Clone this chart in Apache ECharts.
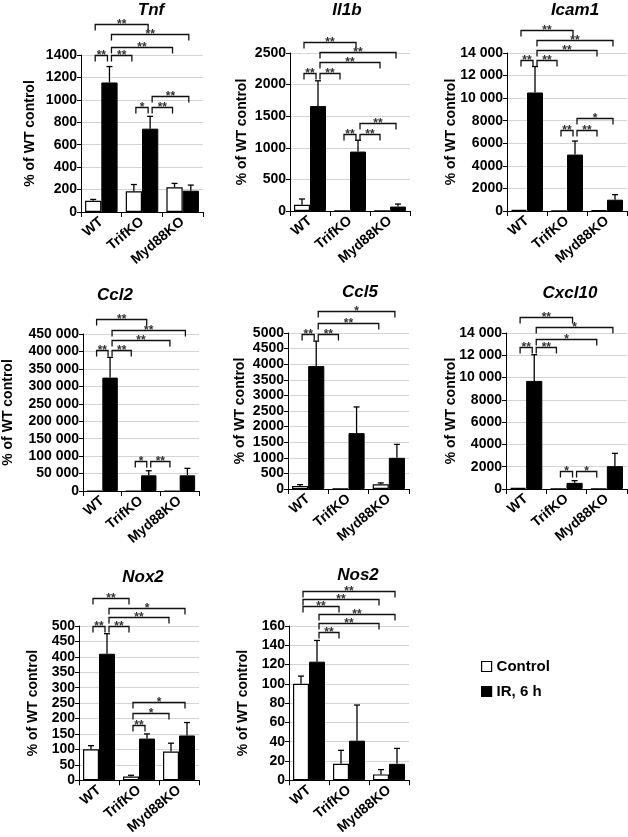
<!DOCTYPE html>
<html><head><meta charset="utf-8">
<script src="https://cdn.jsdelivr.net/npm/echarts@6/dist/echarts.min.js"></script>
<style>html,body{margin:0;padding:0;background:#fff}#c{width:628px;height:837px}</style>
</head><body><div id="c"></div>
<script>
// ---------- data ----------
const categories = ['WT', 'TrifKO', 'Myd88KO'];
const genes = ['Tnf', 'Il1b', 'Icam1', 'Ccl2', 'Ccl5', 'Cxcl10', 'Nox2', 'Nos2'];
const seriesNames = ['Control', 'IR, 6 h'];
const yLabel = '% of WT control';

// axis maxima and tick steps
const axisMax  = [1400, 2500, 14000, 450000, 5000, 14000, 500, 160];
const axisStep = [200, 500, 2000, 50000, 500, 2000, 50, 20];

// means and SDs (control / IR 6 h)
const tnfControl = [100, 185, 220],     tnfControlSD = [12, 60, 35];
const tnfIR = [1155, 743, 190],         tnfIRSD = [142, 110, 50];
const il1bControl = [100, 4, 3],        il1bControlSD = [90, 0, 0];
const il1bIR = [1660, 940, 70],         il1bIRSD = [400, 180, 40];
const icam1Control = [100, 40, 60],     icam1ControlSD = [0, 0, 0];
const icam1IR = [10500, 5000, 1000],    icam1IRSD = [2300, 1200, 450];
const ccl2Control = [100, 100, 120],    ccl2ControlSD = [0, 0, 0];
const ccl2IR = [325000, 45000, 45000],  ccl2IRSD = [58000, 13000, 20000];
const ccl5Control = [100, 10, 150],     ccl5ControlSD = [40, 0, 45];
const ccl5IR = [3940, 1790, 1000],      ccl5IRSD = [800, 840, 430];
const cxcl10Control = [100, 30, 40],    cxcl10ControlSD = [0, 0, 0];
const cxcl10IR = [9700, 550, 2050],     cxcl10IRSD = [2350, 200, 1150];
const nox2Control = [100, 12, 93],      nox2ControlSD = [12, 4, 27];
const nox2IR = [410, 135, 145],         nox2IRSD = [65, 15, 42];
const nos2Control = [100, 17, 6],       nos2ControlSD = [8, 14, 5];
const nos2IR = [123, 41, 17],           nos2IRSD = [22, 37, 16];

// significance comparisons: [category A, group A (0 ctrl / 1 IR), category B, group B, level (data units), label]
const tnfSig = [[0,0,1,1,1677,'**'],[0,1,2,1,1588,'**'],[0,1,2,0,1474,'**'],[0,0,0,1,1400,'**'],[0,1,1,0,1400,'**'],[1,0,1,1,938,'*'],[1,1,2,0,938,'**'],[1,1,2,1,1037,'**']];
const il1bSig = [[0,0,1,1,2669,'**'],[0,1,2,1,2516,'**'],[0,1,2,0,2352,'**'],[0,0,0,1,2182,'**'],[0,1,1,0,2182,'**'],[1,0,1,1,1213,'**'],[1,1,2,0,1213,'**'],[1,1,2,1,1388,'**']];
const icam1Sig = [[0,0,1,1,16077,'**'],[0,1,2,1,15187,'**'],[0,1,2,0,14237,'**'],[0,0,0,1,13407,'**'],[0,1,1,0,13407,'**'],[1,0,1,1,7178,'**'],[1,1,2,0,7178,'**'],[1,1,2,1,8216,'*']];
const ccl2Sig = [[0,0,1,1,492000,'**'],[0,1,2,1,461500,'**'],[0,1,2,0,432800,'**'],[0,0,0,1,404000,'**'],[0,1,1,0,404000,'**'],[1,0,1,1,86900,'*'],[1,1,2,0,86900,'**']];
const ccl5Sig = [[0,1,2,1,5693,'*'],[0,1,2,0,5330,'**'],[0,0,0,1,4979,'**'],[0,1,1,0,4979,'**']];
const cxcl10Sig = [[0,0,1,1,15406,'**'],[0,1,2,1,14509,'*'],[0,1,2,0,13492,'*'],[0,0,0,1,12714,'**'],[0,1,1,0,12714,'**'],[1,0,1,1,1585,'*'],[1,1,2,0,1585,'*']];
const nox2Sig = [[0,0,1,0,591,'**'],[0,1,2,1,557,'*'],[0,1,2,0,530,'**'],[0,0,0,1,500,'**'],[0,1,1,0,500,'**'],[1,0,2,1,252,'*'],[1,0,2,0,219,'*'],[1,0,1,1,180,'**']];
const nos2Sig = [[0,0,2,1,196.3,'**'],[0,0,2,0,187.7,'**'],[0,0,1,0,180.5,'**'],[0,1,2,1,172.3,'**'],[0,1,2,0,162.7,'**'],[0,1,1,0,154.2,'**']];

const panelData = [
  [tnfControl, tnfControlSD, tnfIR, tnfIRSD, tnfSig],
  [il1bControl, il1bControlSD, il1bIR, il1bIRSD, il1bSig],
  [icam1Control, icam1ControlSD, icam1IR, icam1IRSD, icam1Sig],
  [ccl2Control, ccl2ControlSD, ccl2IR, ccl2IRSD, ccl2Sig],
  [ccl5Control, ccl5ControlSD, ccl5IR, ccl5IRSD, ccl5Sig],
  [cxcl10Control, cxcl10ControlSD, cxcl10IR, cxcl10IRSD, cxcl10Sig],
  [nox2Control, nox2ControlSD, nox2IR, nox2IRSD, nox2Sig],
  [nos2Control, nos2ControlSD, nos2IR, nos2IRSD, nos2Sig]
];

// ---------- layout ----------
const layout = [
  {left: 81,  top: 55,  width: 122, height: 157, tx: 151, ty: 10,  gap: 44},
  {left: 290, top: 53,  width: 120, height: 158, tx: 347, ty: 10,  gap: 41},
  {left: 507, top: 53,  width: 120, height: 158, tx: 575, ty: 10,  gap: 49},
  {left: 80,  top: 334, width: 119, height: 157, tx: 115, ty: 295, gap: 68},
  {left: 288, top: 333, width: 121, height: 156, tx: 360, ty: 292, gap: 41},
  {left: 506, top: 333, width: 121, height: 156, tx: 570, ty: 293, gap: 48},
  {left: 79,  top: 626, width: 120, height: 156, tx: 143, ty: 577, gap: 39},
  {left: 289, top: 626, width: 120, height: 156, tx: 358, ty: 575, gap: 39}
];
const FONT = '"Liberation Sans", Arial, sans-serif';
const GAP_FRAC = 0.2;

function fmt(v) {
  if (v >= 10000) return String(v).replace(/\B(?=(\d{3})+(?!\d))/g, ' ');
  return String(v);
}
function barCenter(api, cat, grp) {
  const band = api.size([1, 0])[0];
  const bw = band * (1 - GAP_FRAC) / 2;
  return api.coord([cat, 0])[0] + (grp ? bw / 2 : -bw / 2);
}
function errRender(grp) {
  return function (params, api) {
    const sd = api.value(2);
    if (!sd) return null;
    const cat = api.value(0);
    const x = barCenter(api, cat, grp);
    const y0 = api.coord([cat, api.value(1)])[1];
    const y1 = api.coord([cat, api.value(1) + sd])[1];
    const cap = 3;
    return {type: 'group', children: [
      {type: 'line', shape: {x1: x, y1: y0, x2: x, y2: y1}, style: {stroke: '#000', lineWidth: 1.3}},
      {type: 'line', shape: {x1: x - cap, y1: y1, x2: x + cap, y2: y1}, style: {stroke: '#000', lineWidth: 1.3}}
    ]};
  };
}
function sigRender(list) {
  return function (params, api) {
    const b = list[params.dataIndex];
    const x1 = barCenter(api, b[0], b[1]) + 2;
    const x2 = barCenter(api, b[2], b[3]) - 2;
    const y = Math.round(api.coord([0, b[4]])[1]) + 0.5;
    const arm = 6;
    return {type: 'group', children: [
      {type: 'polyline', shape: {points: [[x1, y + arm], [x1, y], [x2, y], [x2, y + arm]]},
       style: {stroke: '#111', fill: null, lineWidth: 1.3}},
      {type: 'text', style: {x: (x1 + x2) / 2, y: y + 6, text: b[5], align: 'center', verticalAlign: 'bottom',
        font: 'bold 12px ' + FONT, fill: '#333'}}
    ]};
  };
}

const grid = [], xAxis = [], yAxis = [], series = [], graphic = [];
layout.forEach((L, i) => {
  const [ctrl, ctrlSD, ir, irSD, sig] = panelData[i];
  grid.push({left: L.left, top: L.top, width: L.width, height: L.height, containLabel: false});
  xAxis.push({
    type: 'category', gridIndex: i, data: categories,
    axisLine: {lineStyle: {color: '#000', width: 1}},
    axisTick: {show: true, length: 5, lineStyle: {color: '#000'}},
    axisLabel: {interval: 0, rotate: 40, margin: 8, color: '#000', fontWeight: 'bold', fontSize: 14, fontFamily: FONT}
  });
  yAxis.push({
    type: 'value', gridIndex: i, min: 0, max: axisMax[i], interval: axisStep[i],
    name: yLabel, nameLocation: 'middle', nameGap: L.gap, nameMoveOverlap: false,
    nameTextStyle: {color: '#000', fontWeight: 'bold', fontSize: 14, fontFamily: FONT},
    axisLine: {show: true, lineStyle: {color: '#000', width: 1}},
    axisTick: {show: true, length: 4, lineStyle: {color: '#000'}},
    splitLine: {show: true, lineStyle: {color: '#d4d4d4', width: 1}},
    axisLabel: {margin: 4, color: '#000', fontWeight: 'bold', fontSize: 14, fontFamily: FONT, formatter: fmt}
  });
  series.push({
    type: 'bar', name: seriesNames[0], xAxisIndex: i, yAxisIndex: i, data: ctrl,
    barGap: 0, barCategoryGap: (GAP_FRAC * 100) + '%',
    itemStyle: {color: '#fff', borderColor: '#000', borderWidth: 1.2}, emphasis: {disabled: true}
  });
  series.push({
    type: 'bar', name: seriesNames[1], xAxisIndex: i, yAxisIndex: i, data: ir,
    barGap: 0, barCategoryGap: (GAP_FRAC * 100) + '%',
    itemStyle: {color: '#000', borderColor: '#000', borderWidth: 1}, emphasis: {disabled: true}
  });
  series.push({
    type: 'custom', xAxisIndex: i, yAxisIndex: i, z: 5, clip: false, silent: true,
    encode: {x: 0, y: 1}, data: ctrl.map((v, k) => [k, v, ctrlSD[k]]), renderItem: errRender(0)
  });
  series.push({
    type: 'custom', xAxisIndex: i, yAxisIndex: i, z: 5, clip: false, silent: true,
    encode: {x: 0, y: 1}, data: ir.map((v, k) => [k, v, irSD[k]]), renderItem: errRender(1)
  });
  series.push({
    type: 'custom', xAxisIndex: i, yAxisIndex: i, z: 6, clip: false, silent: true,
    encode: {x: 0, y: 1}, data: sig.map(b => [b[0], b[4]]), renderItem: sigRender(sig)
  });
  graphic.push({type: 'text', x: L.tx, y: L.ty, style: {text: genes[i], align: 'center', verticalAlign: 'middle',
    font: 'italic bold 17px ' + FONT, fill: '#000'}});
});

const chart = echarts.init(document.getElementById('c'), null, {renderer: 'canvas'});
chart.setOption({
  animation: false,
  backgroundColor: '#fff',
  grid, xAxis, yAxis, series, graphic,
  legend: {
    data: seriesNames, orient: 'vertical', left: 476, top: 654, icon: 'rect',
    itemWidth: 10, itemHeight: 10, itemGap: 10, selectedMode: false,
    itemStyle: {borderColor: '#000', borderWidth: 1.2},
    textStyle: {color: '#000', fontWeight: 'bold', fontSize: 15, fontFamily: FONT}
  }
});
</script>
</body></html>
